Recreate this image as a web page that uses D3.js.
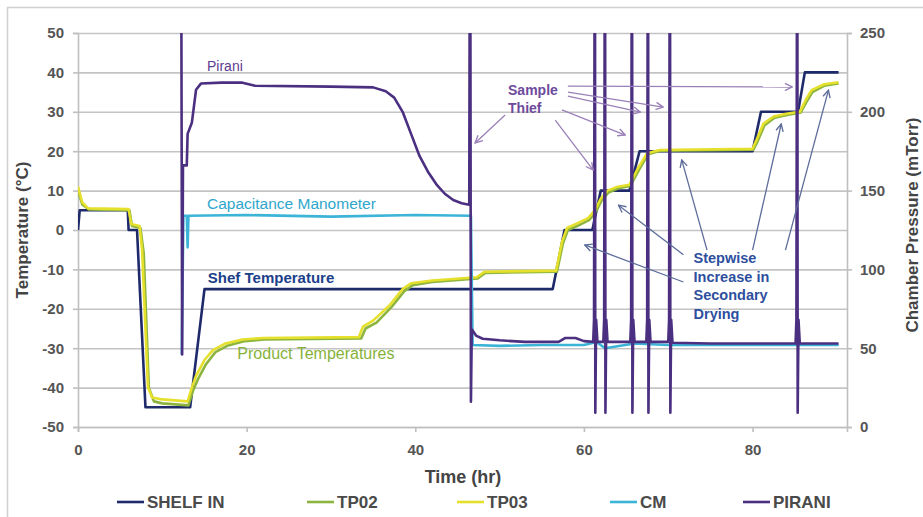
<!DOCTYPE html>
<html>
<head>
  <meta charset="utf-8">
  <title>Freeze drying cycle</title>
  <script src="https://d3js.org/d3.v7.min.js"></script>
  <style>
    body { margin: 0; background: #fff; }
    svg { font-family: "Liberation Sans", Arial, sans-serif; }
  </style>
</head>
<body>
<div id="chart"></div>
<script>
// Ticks
const timeTicks = [0, 20, 40, 60, 80];
const tempTicks = [-50, -40, -30, -20, -10, 0, 10, 20, 30, 40, 50];
const pressTicks = [0, 50, 100, 150, 200, 250];

// SHELF IN (°C) : [time hr, value]
const shelfIn = [[0, 0], [0.2, 5], [5.9, 5], [6.0, 0], [7.0, 0], [8.0, -45], [13.3, -45], [15.0, -15],
  [56.3, -15], [57.7, 0], [61.0, 0], [62.0, 10], [65.4, 10], [66.6, 20], [80.0, 20], [81.0, 30],
  [85.4, 30], [86.2, 40], [90.2, 40]];

// TP02 product probe (°C)
const tp02 = [[0, 10], [0.5, 6.5], [1.3, 5.2], [6.1, 5.0], [6.4, 1.0], [7.4, 0.5], [7.8, -6], [8.4, -40],
  [9.0, -43.5], [10, -44], [13.1, -44.5], [13.6, -41], [14.2, -38], [15.2, -34], [16.3, -31], [17.8, -29.3],
  [19.8, -28.2], [22, -27.8], [33.6, -27.5], [34.1, -25], [35.4, -23.5], [37.2, -19.5], [38.7, -15.5],
  [39.7, -14], [42, -13.2], [47.4, -12.3], [48.3, -10.9], [56.8, -10.6], [57.5, -3.5], [58.1, 0],
  [59.2, 1], [60.6, 2.5], [61.4, 4.5], [62.1, 7.5], [62.9, 9.5], [64.1, 10.6], [65.5, 11.2], [66.6, 15.5],
  [67.6, 19.2], [69.1, 20.1], [80.1, 20.4], [80.6, 22.5], [81.4, 26.5], [82.6, 28.5], [84.1, 29.2],
  [85.7, 29.8], [86.4, 32.5], [87.1, 35], [88.6, 36.7], [90.2, 37.2]];

// TP03 product probe (°C)
const tp03 = [[0, 11], [0.5, 7], [1.2, 5.5], [6.0, 5.3], [6.3, 1.5], [7.3, 1], [7.6, -5], [8.3, -40],
  [8.8, -42.5], [10, -43], [13.0, -43.5], [13.5, -40], [14.0, -37], [15.0, -33], [16.0, -30.5], [17.5, -28.8],
  [19.5, -27.8], [22, -27.4], [33.3, -27.2], [33.8, -24.5], [35.0, -23], [37.0, -19], [38.5, -15],
  [39.5, -13.5], [42, -12.8], [47.3, -12], [48.2, -10.6], [56.7, -10.3], [57.4, -3], [58.0, 0.5],
  [59.0, 1.5], [60.5, 3], [61.3, 5], [62.0, 8], [62.8, 10], [64.0, 11], [65.4, 11.5], [66.5, 16],
  [67.5, 19.5], [69.0, 20.3], [80.0, 20.6], [80.5, 23], [81.3, 27], [82.5, 28.8], [84.0, 29.5],
  [85.6, 30], [86.3, 33], [87.0, 35.5], [88.5, 37], [90.2, 37.5]];

// CM capacitance manometer (mTorr)
const cm = [[12.3, 46], [12.5, 134], [12.9, 134], [13.0, 114], [13.1, 134], [20, 134.5], [30, 133.5],
  [40, 134.5], [46.6, 134], [46.8, 52], [50, 51.5], [55, 52], [60, 52], [61.5, 54], [62.5, 50],
  [66, 53], [70, 52], [80, 52], [90.2, 52]];

// PIRANI gauge (mTorr)
const pirani = [[12.2, 400], [12.35, 46], [12.45, 166], [12.9, 166], [13.0, 186], [13.5, 193], [14.0, 214],
  [14.6, 218], [17, 218.5], [19.5, 218.5], [21, 216.5], [30, 216], [35, 215.5], [36.5, 213], [37.5, 209],
  [38.5, 200], [39.5, 186], [40.5, 172], [41.5, 162], [42.5, 154], [43.5, 148], [44.5, 144], [45.5, 142],
  [46.4, 141], [46.5, 400], [46.6, 16], [46.7, 62], [47.2, 58], [48, 56], [50, 55], [53, 54],
  [57, 54], [57.8, 56.5], [59, 56.5], [60, 54.5], [61.1, 54],
  [61.2, 68], [61.3, 400], [61.35, 9], [61.45, 68], [61.6, 54],
  [62.3, 54], [62.4, 68], [62.5, 400], [62.55, 9], [62.65, 68], [62.8, 54],
  [65.5, 54], [65.6, 68], [65.7, 400], [65.75, 9], [65.85, 68], [66.0, 54],
  [67.4, 54], [67.5, 68], [67.6, 400], [67.65, 9], [67.75, 68], [67.9, 54],
  [70.0, 54], [70.1, 68], [70.2, 400], [70.25, 9], [70.35, 68], [70.5, 53.5],
  [75, 53], [80, 53], [85.1, 53], [85.2, 68], [85.3, 400], [85.35, 9], [85.45, 68], [85.6, 53],
  [90.2, 53]];

const legendItems = [
  {name: "SHELF IN", color: "#1f2a6b"},
  {name: "TP02", color: "#8db43e"},
  {name: "TP03", color: "#e4e02c"},
  {name: "CM", color: "#3cb4d8"},
  {name: "PIRANI", color: "#4b2f80"}
];

// Layout
const W = 923, H = 517;
const plot = {left: 78, right: 847, top: 33, bottom: 427};

const svg = d3.select("#chart").append("svg").attr("width", W).attr("height", H);

svg.append("rect").attr("x", 7.5).attr("y", 7.5).attr("width", 925).attr("height", 530)
  .attr("fill", "none").attr("stroke", "#d0d0d0").attr("stroke-width", 1.5);

const x = d3.scaleLinear().domain([0, 91.2]).range([plot.left, plot.right]);
const yT = d3.scaleLinear().domain([-50, 50]).range([plot.bottom, plot.top]);
const yP = d3.scaleLinear().domain([0, 250]).range([plot.bottom, plot.top]);
const plain = d => String(d);

// Gridlines
svg.append("g").attr("transform", `translate(${plot.left},0)`)
  .call(d3.axisLeft(yT).tickValues(tempTicks).tickSize(-(plot.right - plot.left)).tickFormat(""))
  .call(g => g.select(".domain").remove())
  .call(g => g.selectAll("line").attr("stroke", "#c4c4c4").attr("stroke-width", 1.6));

// Left axis
svg.append("g").attr("transform", `translate(${plot.left},0)`)
  .call(d3.axisLeft(yT).tickValues(tempTicks).tickSize(5).tickPadding(9).tickFormat(plain))
  .call(g => g.selectAll("path,line").attr("stroke", "#bfbfbf").attr("stroke-width", 1.6))
  .call(g => g.selectAll("text").attr("fill", "#555").attr("font-size", 15).attr("font-weight", "bold"));

// Right axis
svg.append("g").attr("transform", `translate(${plot.right},0)`)
  .call(d3.axisRight(yP).tickValues(pressTicks).tickSize(5).tickPadding(8).tickFormat(plain))
  .call(g => g.selectAll("path,line").attr("stroke", "#bfbfbf").attr("stroke-width", 1.6))
  .call(g => g.selectAll("text").attr("fill", "#555").attr("font-size", 15).attr("font-weight", "bold"));

// Bottom axis
svg.append("g").attr("transform", `translate(0,${plot.bottom})`)
  .call(d3.axisBottom(x).tickValues(timeTicks).tickSize(5).tickPadding(12).tickFormat(plain))
  .call(g => g.selectAll("path,line").attr("stroke", "#bfbfbf").attr("stroke-width", 1.6))
  .call(g => g.selectAll("text").attr("fill", "#555").attr("font-size", 15).attr("font-weight", "bold"));

// Axis titles
svg.append("text").attr("x", 463).attr("y", 483).attr("text-anchor", "middle")
  .attr("font-size", 18).attr("font-weight", "bold").attr("fill", "#444").text("Time (hr)");
svg.append("text").attr("transform", "translate(28,230) rotate(-90)").attr("text-anchor", "middle")
  .attr("font-size", 17).attr("font-weight", "bold").attr("fill", "#444").text("Temperature (°C)");
svg.append("text").attr("transform", "translate(918,225) rotate(-90)").attr("text-anchor", "middle")
  .attr("font-size", 17).attr("font-weight", "bold").attr("fill", "#444").text("Chamber Pressure (mTorr)");

// Series
svg.append("clipPath").attr("id", "clip").append("rect")
  .attr("x", plot.left).attr("y", plot.top).attr("width", plot.right - plot.left).attr("height", plot.bottom - plot.top);

const lineT = d3.line().x(d => x(d[0])).y(d => yT(d[1]));
const lineP = d3.line().x(d => x(d[0])).y(d => yP(d[1]));
const series = svg.append("g").attr("clip-path", "url(#clip)");

[[shelfIn, lineT, 0], [tp02, lineT, 1], [tp03, lineT, 2], [cm, lineP, 3], [pirani, lineP, 4]]
  .forEach(([data, gen, i]) => {
    series.append("path").datum(data)
      .attr("fill", "none")
      .attr("stroke", legendItems[i].color)
      .attr("stroke-width", 2.6)
      .attr("stroke-linejoin", "round")
      .attr("d", gen);
  });

// Annotations (positions in hr / °C)
const defs = svg.append("defs");
function marker(id, color) {
  defs.append("marker").attr("id", id).attr("viewBox", "0 0 10 10").attr("refX", 9).attr("refY", 5)
    .attr("markerWidth", 7).attr("markerHeight", 7).attr("orient", "auto")
    .append("path").attr("d", "M1,1 L9,5 L1,9").attr("fill", "none").attr("stroke", color).attr("stroke-width", 1.5);
}
marker("arrP", "#9a80b8");
marker("arrB", "#5d6c9a");

const thiefArrows = [[50.65, 29.2, 47.1, 22.1], [58.1, 36.5, 84.7, 36.3], [58.1, 35.0, 69.4, 31.2],
  [58.1, 34.0, 66.7, 29.9], [57.4, 30.5, 64.9, 24.1], [56.6, 27.9, 61.1, 15.2]];
const stepArrows = [[71.8, -13.2, 60.1, -3.8], [71.8, -6.3, 64.1, 6.3], [74.6, -5.1, 71.6, 17.8],
  [80.0, -5.1, 83.4, 26.9], [83.9, -5.1, 89.0, 35.5]];

thiefArrows.forEach(a => svg.append("line")
  .attr("x1", x(a[0])).attr("y1", yT(a[1])).attr("x2", x(a[2])).attr("y2", yT(a[3]))
  .attr("stroke", "#9a80b8").attr("stroke-width", 1.3).attr("marker-end", "url(#arrP)"));
stepArrows.forEach(a => svg.append("line")
  .attr("x1", x(a[0])).attr("y1", yT(a[1])).attr("x2", x(a[2])).attr("y2", yT(a[3]))
  .attr("stroke", "#5d6c9a").attr("stroke-width", 1.3).attr("marker-end", "url(#arrB)"));

const labels = [
  {t: "Pirani", hr: 15.3, v: 40.4, c: "#5e3c8f", w: "normal", s: 14},
  {t: "Capacitance Manometer", hr: 15.3, v: 5.3, c: "#2fa6cc", w: "normal", s: 15.5},
  {t: "Shef Temperature", hr: 15.4, v: -13.5, c: "#203f8a", w: "bold", s: 15},
  {t: "Product Temperatures", hr: 18.9, v: -32.7, c: "#86b23a", w: "normal", s: 16},
  {t: "Sample", hr: 51.0, v: 34.3, c: "#6e4a9c", w: "bold", s: 14},
  {t: "Thief", hr: 51.0, v: 29.7, c: "#6e4a9c", w: "bold", s: 14},
  {t: "Stepwise", hr: 73.0, v: -8.4, c: "#2d4f9e", w: "bold", s: 14.5},
  {t: "Increase in", hr: 73.0, v: -13.2, c: "#2d4f9e", w: "bold", s: 14.5},
  {t: "Secondary", hr: 73.0, v: -17.8, c: "#2d4f9e", w: "bold", s: 14.5},
  {t: "Drying", hr: 73.0, v: -22.6, c: "#2d4f9e", w: "bold", s: 14.5}
];
labels.forEach(l => svg.append("text").attr("x", x(l.hr)).attr("y", yT(l.v))
  .attr("font-size", l.s).attr("font-weight", l.w).attr("fill", l.c).text(l.t));

// Legend
const legendX = [117, 307, 457, 610, 743];
const legend = svg.append("g").attr("transform", "translate(0,502)");
legendItems.forEach((d, i) => {
  legend.append("line").attr("x1", legendX[i]).attr("x2", legendX[i] + 27).attr("y1", 0).attr("y2", 0)
    .attr("stroke", d.color).attr("stroke-width", 2.6);
  legend.append("text").attr("x", legendX[i] + 30).attr("y", 6)
    .attr("font-size", 17).attr("font-weight", "bold").attr("fill", "#4a4a4a").text(d.name);
});
</script>
</body>
</html>
